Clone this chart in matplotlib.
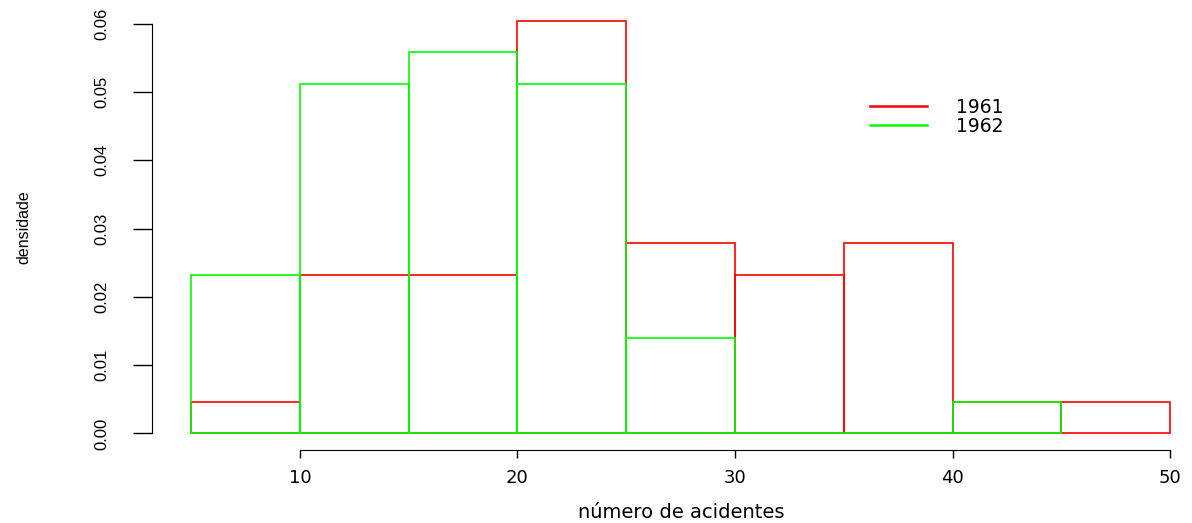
import matplotlib
matplotlib.use('Agg')
import matplotlib.pyplot as plt

# === Data (densities) ===
edges_1961 = [5, 10, 15, 20, 25, 30, 35, 40, 45, 50]
dens_1961 = [0.00465, 0.02326, 0.02326, 0.06047, 0.02791, 0.02326, 0.02791, 0.00465, 0.00465]
edges_1962 = [5, 10, 15, 20, 25, 30, 35, 40, 45]
dens_1962 = [0.02326, 0.05116, 0.05581, 0.05116, 0.01395, 0.0, 0.0, 0.00465]

x_ticks = [10, 20, 30, 40, 50]
y_ticks = [0.00, 0.01, 0.02, 0.03, 0.04, 0.05, 0.06]
series_labels = ['1961', '1962']
colors = ['#FF0000', '#00FF00']

plt.rcParams['font.family'] = ['DejaVu Sans']

W, H = 1192, 523
fig = plt.figure(figsize=(W / 100, H / 100), dpi=100)
# plot region (pixel coords of the R user area)
left, right, top, bottom = 152, 1192, 4, 450
ax = fig.add_axes([left / W, 1 - bottom / H, (right - left) / W, (bottom - top) / H])

ax.bar(edges_1961[:-1], dens_1961, width=5, align='edge', fill=False,
       edgecolor=colors[0], linewidth=1.2)
ax.bar(edges_1962[:-1], dens_1962, width=5, align='edge', fill=False,
       edgecolor=colors[1], linewidth=1.2)

ax.set_xlim(3.2, 51.01)
ax.set_ylim(-0.00242, 0.0629)

for s in ['top', 'right']:
    ax.spines[s].set_visible(False)
ax.spines['left'].set_bounds(0, 0.06)
ax.spines['bottom'].set_bounds(10, 50)

narrow = ['Liberation Sans']
ax.set_xticks(x_ticks)
ax.set_xticklabels([str(t) for t in x_ticks], fontsize=13)
ax.set_yticks(y_ticks)
ax.set_yticklabels(['%.2f' % t for t in y_ticks], rotation=90, va='center',
                   fontsize=12, family=narrow)
ax.tick_params(axis='x', length=5.8, width=1, pad=8)
ax.tick_params(axis='y', length=13.7, width=1, pad=17)

ax.set_xlabel('número de acidentes', fontsize=14, va='center')
ax.xaxis.set_label_coords((681 - left) / (right - left), -(512 - bottom) / (bottom - top))
ax.set_ylabel('densidade', fontsize=11.5, family=narrow, va='center', ha='center')
ax.yaxis.set_label_coords((24 - left) / (right - left), 0.5)

# legend
ax.plot([], [], color=colors[0], lw=1.8, label=series_labels[0])
ax.plot([], [], color=colors[1], lw=1.8, label=series_labels[1])
ax.legend(loc='upper left', bbox_to_anchor=((870 - left) / (right - left), (bottom - 98) / (bottom - top)),
          frameon=False, fontsize=13.5, handlelength=3.04, handletextpad=1.55,
          labelspacing=0.0, borderpad=0, borderaxespad=0)

fig.savefig('out.png', dpi=100)
